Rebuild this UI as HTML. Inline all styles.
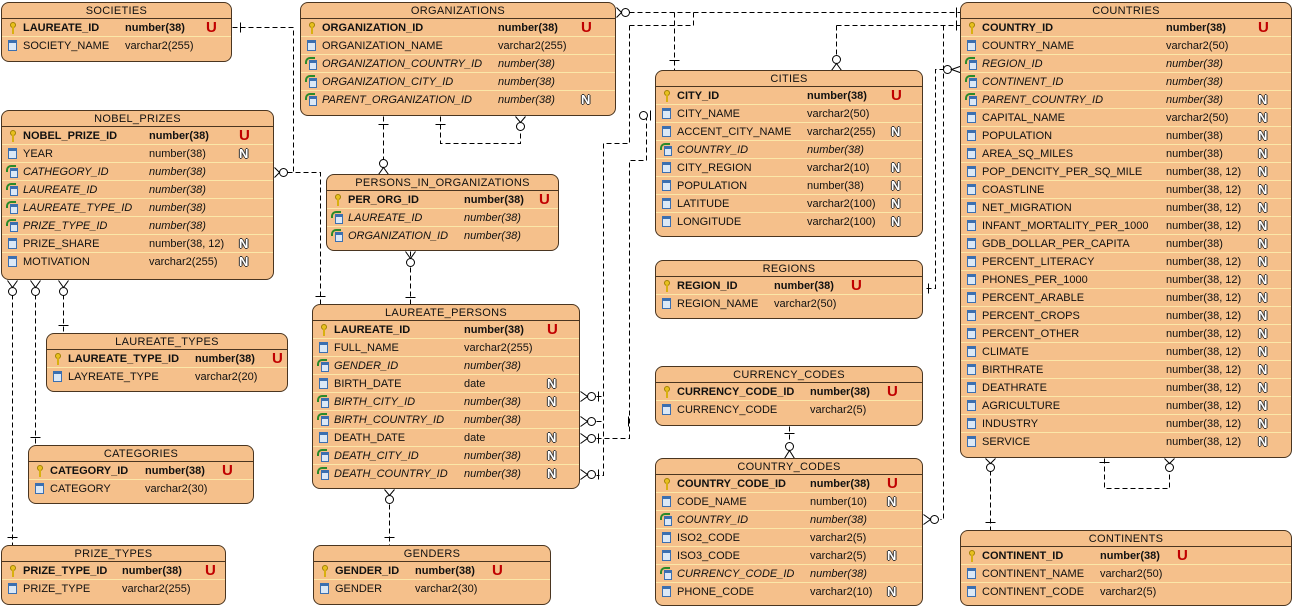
<!DOCTYPE html>
<html><head><meta charset="utf-8"><style>
body{margin:0;width:1295px;height:611px;background:#fff;position:relative;overflow:hidden;font-family:"Liberation Sans",sans-serif;font-size:11px;color:#111}
.t{position:absolute;background:#f5c08b;border:1px solid #4a3520;border-radius:8px;box-sizing:border-box;overflow:hidden}
.h{height:16px;line-height:16px;text-align:center;border-bottom:1px solid #4a3520;font-size:11px;letter-spacing:.3px;box-sizing:border-box}
.r{position:relative;height:18px;border-bottom:1px solid #fbe7a8;line-height:18px;white-space:nowrap;box-sizing:border-box}
.r:last-child{border-bottom:none}
.n{position:absolute;left:21px}
.ty{position:absolute;left:var(--c)}
.fl{position:absolute;left:var(--f);top:0}
.b{font-weight:bold}
.it{font-style:italic}
.u{color:#c00000;font-weight:bold;font-size:15px}
.nn{color:#fff;font-weight:bold;font-size:13px;text-shadow:-1px 0 #333,1px 0 #333,0 -1px #333,0 1px #333}
i{position:absolute;left:6px;top:3px;width:9px;height:11px;box-sizing:border-box}
i.k{left:8px;width:6px;height:6px;border-radius:50%;background:#e8c020;border:1px solid #a08000}
i.k:after{content:"";position:absolute;left:1px;top:4px;width:2px;height:7px;background:#d8b010}
i.c{background:#dbe8f6;border:1px solid #3b6fb0;border-top:3px solid #3b6fb0}
i.f{left:8px;top:5px;width:8px;height:10px;background:#dbe8f6;border:1px solid #3b6fb0;border-top:3px solid #3b6fb0}
i.f:before{content:"";position:absolute;left:-5px;top:-6px;width:8px;height:5px;border-top:2px solid #2a8a2a;border-left:2px solid #2a8a2a;border-radius:5px 0 0 0}
svg{position:absolute;left:0;top:0}
</style></head><body>
<svg width="1295" height="611"><g transform="translate(0.5,0.5)"><g fill="none" stroke="#000" stroke-width="1" stroke-dasharray="5,3" shape-rendering="crispEdges">
<path d="M232,27H293V172"/><path d="M287,172H320V304"/>
<path d="M629,12H960"/><path d="M629,25V143H603V475H596"/><path d="M629,25H693V12"/><path d="M596,396H603"/>
<path d="M674,12V70"/><path d="M836,25H960"/><path d="M836,25V56"/>
<path d="M646,115V160H629V438H596"/><path d="M596,421H603"/>
<path d="M943,25V519H940"/><path d="M952,69H935V288H923"/>
<path d="M990,470V530"/><path d="M1104,458V488H1169V470"/>
<path d="M789,426V446"/>
<path d="M383,116V160"/><path d="M440,116V143H520V130"/>
<path d="M410,251V304"/><path d="M389,504V545"/>
<path d="M12,294V545"/><path d="M35,294V445"/><path d="M63,294V333"/>
</g>
<g fill="#fff" stroke="#000" stroke-width="1">
<circle cx="283" cy="172" r="4"/><circle cx="625" cy="12" r="4"/><circle cx="836" cy="59" r="4"/>
<circle cx="643" cy="115" r="4"/><circle cx="947" cy="69" r="4"/><circle cx="591" cy="396" r="4"/>
<circle cx="591" cy="421" r="4"/><circle cx="591" cy="438" r="4"/><circle cx="591" cy="474" r="4"/>
<circle cx="934" cy="519" r="4"/><circle cx="990" cy="467" r="4"/><circle cx="1169" cy="467" r="4"/>
<circle cx="789" cy="446" r="4"/><circle cx="383" cy="163" r="4"/><circle cx="520" cy="126" r="4"/>
<circle cx="410" cy="262" r="4"/><circle cx="389" cy="499" r="4"/>
<circle cx="12" cy="291" r="4"/><circle cx="35" cy="291" r="4"/><circle cx="63" cy="291" r="4"/>
</g>
<g stroke="#000" fill="none">
<path d="M274,167L279,172L274,177"/><path d="M616,7L621,12L616,17"/><path d="M831,70L836,63L841,70"/>
<path d="M965,64L951,69L965,74"/><path d="M580,391L587,396L580,401"/><path d="M580,416L587,421L580,426"/>
<path d="M580,433L587,438L580,443"/><path d="M580,469L587,474L580,479"/><path d="M923,514L930,519L923,524"/>
<path d="M985,458L990,463L995,458"/><path d="M1164,458L1169,463L1174,458"/><path d="M784,458L789,450L794,458"/>
<path d="M378,174L383,167L388,174"/><path d="M515,116L520,122L525,116"/><path d="M405,251L410,258L415,251"/>
<path d="M384,489L389,495L394,489"/><path d="M7,280L12,287L17,280"/><path d="M30,280L35,287L40,280"/><path d="M58,280L63,287L68,280"/>
<path d="M240,22V32M956,7V17M956,20V30M669,60H679M650,110V120M628,416V426M928,283V293M985,522H995M1099,462H1109M784,433H794M378,124H388M435,124H445M405,297H415M384,537H394M7,537H17M30,437H40M58,325H68M315,296H325M598,391V401M598,433V443M598,469V479"/>
</g></g></svg>

<div class="t" style="left:1px;top:2px;width:231px;height:60px;--c:123px;--f:204px"><div class="h">SOCIETIES</div>
<div class="r"><i class="k"></i><span class="n b">LAUREATE_ID</span><span class="ty b">number(38)</span><span class="fl u">U</span></div>
<div class="r"><i class="c"></i><span class="n">SOCIETY_NAME</span><span class="ty">varchar2(255)</span></div></div>

<div class="t" style="left:300px;top:2px;width:316px;height:114px;--c:197px;--f:280px"><div class="h">ORGANIZATIONS</div>
<div class="r"><i class="k"></i><span class="n b">ORGANIZATION_ID</span><span class="ty b">number(38)</span><span class="fl u">U</span></div>
<div class="r"><i class="c"></i><span class="n">ORGANIZATION_NAME</span><span class="ty">varchar2(255)</span></div>
<div class="r"><i class="f"></i><span class="n it">ORGANIZATION_COUNTRY_ID</span><span class="ty it">number(38)</span></div>
<div class="r"><i class="f"></i><span class="n it">ORGANIZATION_CITY_ID</span><span class="ty it">number(38)</span></div>
<div class="r"><i class="f"></i><span class="n it">PARENT_ORGANIZATION_ID</span><span class="ty it">number(38)</span><span class="fl nn">N</span></div></div>

<div class="t" style="left:960px;top:2px;width:332px;height:456px;--c:205px;--f:297px"><div class="h">COUNTRIES</div>
<div class="r"><i class="k"></i><span class="n b">COUNTRY_ID</span><span class="ty b">number(38)</span><span class="fl u">U</span></div>
<div class="r"><i class="c"></i><span class="n">COUNTRY_NAME</span><span class="ty">varchar2(50)</span></div>
<div class="r"><i class="f"></i><span class="n it">REGION_ID</span><span class="ty it">number(38)</span></div>
<div class="r"><i class="f"></i><span class="n it">CONTINENT_ID</span><span class="ty it">number(38)</span></div>
<div class="r"><i class="f"></i><span class="n it">PARENT_COUNTRY_ID</span><span class="ty it">number(38)</span><span class="fl nn">N</span></div>
<div class="r"><i class="c"></i><span class="n">CAPITAL_NAME</span><span class="ty">varchar2(50)</span><span class="fl nn">N</span></div>
<div class="r"><i class="c"></i><span class="n">POPULATION</span><span class="ty">number(38)</span><span class="fl nn">N</span></div>
<div class="r"><i class="c"></i><span class="n">AREA_SQ_MILES</span><span class="ty">number(38)</span><span class="fl nn">N</span></div>
<div class="r"><i class="c"></i><span class="n">POP_DENCITY_PER_SQ_MILE</span><span class="ty">number(38, 12)</span><span class="fl nn">N</span></div>
<div class="r"><i class="c"></i><span class="n">COASTLINE</span><span class="ty">number(38, 12)</span><span class="fl nn">N</span></div>
<div class="r"><i class="c"></i><span class="n">NET_MIGRATION</span><span class="ty">number(38, 12)</span><span class="fl nn">N</span></div>
<div class="r"><i class="c"></i><span class="n">INFANT_MORTALITY_PER_1000</span><span class="ty">number(38, 12)</span><span class="fl nn">N</span></div>
<div class="r"><i class="c"></i><span class="n">GDB_DOLLAR_PER_CAPITA</span><span class="ty">number(38)</span><span class="fl nn">N</span></div>
<div class="r"><i class="c"></i><span class="n">PERCENT_LITERACY</span><span class="ty">number(38, 12)</span><span class="fl nn">N</span></div>
<div class="r"><i class="c"></i><span class="n">PHONES_PER_1000</span><span class="ty">number(38, 12)</span><span class="fl nn">N</span></div>
<div class="r"><i class="c"></i><span class="n">PERCENT_ARABLE</span><span class="ty">number(38, 12)</span><span class="fl nn">N</span></div>
<div class="r"><i class="c"></i><span class="n">PERCENT_CROPS</span><span class="ty">number(38, 12)</span><span class="fl nn">N</span></div>
<div class="r"><i class="c"></i><span class="n">PERCENT_OTHER</span><span class="ty">number(38, 12)</span><span class="fl nn">N</span></div>
<div class="r"><i class="c"></i><span class="n">CLIMATE</span><span class="ty">number(38, 12)</span><span class="fl nn">N</span></div>
<div class="r"><i class="c"></i><span class="n">BIRTHRATE</span><span class="ty">number(38, 12)</span><span class="fl nn">N</span></div>
<div class="r"><i class="c"></i><span class="n">DEATHRATE</span><span class="ty">number(38, 12)</span><span class="fl nn">N</span></div>
<div class="r"><i class="c"></i><span class="n">AGRICULTURE</span><span class="ty">number(38, 12)</span><span class="fl nn">N</span></div>
<div class="r"><i class="c"></i><span class="n">INDUSTRY</span><span class="ty">number(38, 12)</span><span class="fl nn">N</span></div>
<div class="r"><i class="c"></i><span class="n">SERVICE</span><span class="ty">number(38, 12)</span><span class="fl nn">N</span></div></div>

<div class="t" style="left:1px;top:110px;width:273px;height:170px;--c:147px;--f:237px"><div class="h">NOBEL_PRIZES</div>
<div class="r"><i class="k"></i><span class="n b">NOBEL_PRIZE_ID</span><span class="ty b">number(38)</span><span class="fl u">U</span></div>
<div class="r"><i class="c"></i><span class="n">YEAR</span><span class="ty">number(38)</span><span class="fl nn">N</span></div>
<div class="r"><i class="f"></i><span class="n it">CATHEGORY_ID</span><span class="ty it">number(38)</span></div>
<div class="r"><i class="f"></i><span class="n it">LAUREATE_ID</span><span class="ty it">number(38)</span></div>
<div class="r"><i class="f"></i><span class="n it">LAUREATE_TYPE_ID</span><span class="ty it">number(38)</span></div>
<div class="r"><i class="f"></i><span class="n it">PRIZE_TYPE_ID</span><span class="ty it">number(38)</span></div>
<div class="r"><i class="c"></i><span class="n">PRIZE_SHARE</span><span class="ty">number(38, 12)</span><span class="fl nn">N</span></div>
<div class="r"><i class="c"></i><span class="n">MOTIVATION</span><span class="ty">varchar2(255)</span><span class="fl nn">N</span></div></div>

<div class="t" style="left:655px;top:70px;width:268px;height:167px;--c:151px;--f:235px"><div class="h">CITIES</div>
<div class="r"><i class="k"></i><span class="n b">CITY_ID</span><span class="ty b">number(38)</span><span class="fl u">U</span></div>
<div class="r"><i class="c"></i><span class="n">CITY_NAME</span><span class="ty">varchar2(50)</span></div>
<div class="r"><i class="c"></i><span class="n">ACCENT_CITY_NAME</span><span class="ty">varchar2(255)</span><span class="fl nn">N</span></div>
<div class="r"><i class="f"></i><span class="n it">COUNTRY_ID</span><span class="ty it">number(38)</span></div>
<div class="r"><i class="c"></i><span class="n">CITY_REGION</span><span class="ty">varchar2(10)</span><span class="fl nn">N</span></div>
<div class="r"><i class="c"></i><span class="n">POPULATION</span><span class="ty">number(38)</span><span class="fl nn">N</span></div>
<div class="r"><i class="c"></i><span class="n">LATITUDE</span><span class="ty">varchar2(100)</span><span class="fl nn">N</span></div>
<div class="r"><i class="c"></i><span class="n">LONGITUDE</span><span class="ty">varchar2(100)</span><span class="fl nn">N</span></div></div>

<div class="t" style="left:326px;top:174px;width:233px;height:77px;--c:137px;--f:212px"><div class="h">PERSONS_IN_ORGANIZATIONS</div>
<div class="r"><i class="k"></i><span class="n b">PER_ORG_ID</span><span class="ty b">number(38)</span><span class="fl u">U</span></div>
<div class="r"><i class="f"></i><span class="n it">LAUREATE_ID</span><span class="ty it">number(38)</span></div>
<div class="r"><i class="f"></i><span class="n it">ORGANIZATION_ID</span><span class="ty it">number(38)</span></div></div>

<div class="t" style="left:655px;top:260px;width:268px;height:59px;--c:118px;--f:195px"><div class="h">REGIONS</div>
<div class="r"><i class="k"></i><span class="n b">REGION_ID</span><span class="ty b">number(38)</span><span class="fl u">U</span></div>
<div class="r"><i class="c"></i><span class="n">REGION_NAME</span><span class="ty">varchar2(50)</span></div></div>

<div class="t" style="left:46px;top:333px;width:242px;height:59px;--c:148px;--f:225px"><div class="h">LAUREATE_TYPES</div>
<div class="r"><i class="k"></i><span class="n b">LAUREATE_TYPE_ID</span><span class="ty b">number(38)</span><span class="fl u">U</span></div>
<div class="r"><i class="c"></i><span class="n">LAYREATE_TYPE</span><span class="ty">varchar2(20)</span></div></div>

<div class="t" style="left:312px;top:304px;width:268px;height:185px;--c:151px;--f:234px"><div class="h">LAUREATE_PERSONS</div>
<div class="r"><i class="k"></i><span class="n b">LAUREATE_ID</span><span class="ty b">number(38)</span><span class="fl u">U</span></div>
<div class="r"><i class="c"></i><span class="n">FULL_NAME</span><span class="ty">varchar2(255)</span></div>
<div class="r"><i class="f"></i><span class="n it">GENDER_ID</span><span class="ty it">number(38)</span></div>
<div class="r"><i class="c"></i><span class="n">BIRTH_DATE</span><span class="ty">date</span><span class="fl nn">N</span></div>
<div class="r"><i class="f"></i><span class="n it">BIRTH_CITY_ID</span><span class="ty it">number(38)</span><span class="fl nn">N</span></div>
<div class="r"><i class="f"></i><span class="n it">BIRTH_COUNTRY_ID</span><span class="ty it">number(38)</span></div>
<div class="r"><i class="c"></i><span class="n">DEATH_DATE</span><span class="ty">date</span><span class="fl nn">N</span></div>
<div class="r"><i class="f"></i><span class="n it">DEATH_CITY_ID</span><span class="ty it">number(38)</span><span class="fl nn">N</span></div>
<div class="r"><i class="f"></i><span class="n it">DEATH_COUNTRY_ID</span><span class="ty it">number(38)</span><span class="fl nn">N</span></div></div>

<div class="t" style="left:655px;top:366px;width:268px;height:60px;--c:154px;--f:231px"><div class="h">CURRENCY_CODES</div>
<div class="r"><i class="k"></i><span class="n b">CURRENCY_CODE_ID</span><span class="ty b">number(38)</span><span class="fl u">U</span></div>
<div class="r"><i class="c"></i><span class="n">CURRENCY_CODE</span><span class="ty">varchar2(5)</span></div></div>

<div class="t" style="left:28px;top:445px;width:226px;height:59px;--c:116px;--f:193px"><div class="h">CATEGORIES</div>
<div class="r"><i class="k"></i><span class="n b">CATEGORY_ID</span><span class="ty b">number(38)</span><span class="fl u">U</span></div>
<div class="r"><i class="c"></i><span class="n">CATEGORY</span><span class="ty">varchar2(30)</span></div></div>

<div class="t" style="left:655px;top:458px;width:268px;height:148px;--c:154px;--f:231px"><div class="h">COUNTRY_CODES</div>
<div class="r"><i class="k"></i><span class="n b">COUNTRY_CODE_ID</span><span class="ty b">number(38)</span><span class="fl u">U</span></div>
<div class="r"><i class="c"></i><span class="n">CODE_NAME</span><span class="ty">number(10)</span><span class="fl nn">N</span></div>
<div class="r"><i class="f"></i><span class="n it">COUNTRY_ID</span><span class="ty it">number(38)</span></div>
<div class="r"><i class="c"></i><span class="n">ISO2_CODE</span><span class="ty">varchar2(5)</span></div>
<div class="r"><i class="c"></i><span class="n">ISO3_CODE</span><span class="ty">varchar2(5)</span><span class="fl nn">N</span></div>
<div class="r"><i class="f"></i><span class="n it">CURRENCY_CODE_ID</span><span class="ty it">number(38)</span></div>
<div class="r"><i class="c"></i><span class="n">PHONE_CODE</span><span class="ty">varchar2(10)</span><span class="fl nn">N</span></div></div>

<div class="t" style="left:1px;top:545px;width:225px;height:60px;--c:120px;--f:203px"><div class="h">PRIZE_TYPES</div>
<div class="r"><i class="k"></i><span class="n b">PRIZE_TYPE_ID</span><span class="ty b">number(38)</span><span class="fl u">U</span></div>
<div class="r"><i class="c"></i><span class="n">PRIZE_TYPE</span><span class="ty">varchar2(255)</span></div></div>

<div class="t" style="left:313px;top:545px;width:238px;height:60px;--c:101px;--f:178px"><div class="h">GENDERS</div>
<div class="r"><i class="k"></i><span class="n b">GENDER_ID</span><span class="ty b">number(38)</span><span class="fl u">U</span></div>
<div class="r"><i class="c"></i><span class="n">GENDER</span><span class="ty">varchar2(30)</span></div></div>

<div class="t" style="left:960px;top:530px;width:332px;height:76px;--c:139px;--f:216px"><div class="h">CONTINENTS</div>
<div class="r"><i class="k"></i><span class="n b">CONTINENT_ID</span><span class="ty b">number(38)</span><span class="fl u">U</span></div>
<div class="r"><i class="c"></i><span class="n">CONTINENT_NAME</span><span class="ty">varchar2(50)</span></div>
<div class="r"><i class="c"></i><span class="n">CONTINENT_CODE</span><span class="ty">varchar2(5)</span></div></div>
</body></html>
